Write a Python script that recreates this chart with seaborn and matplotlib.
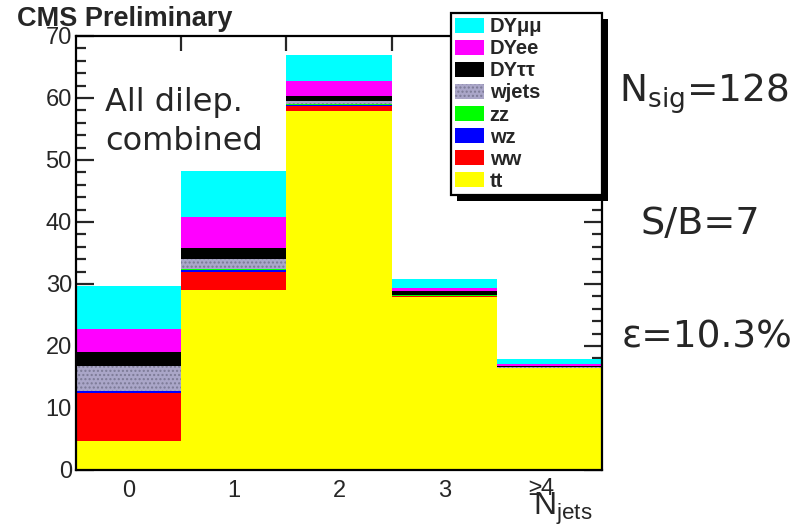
import numpy as np
import pandas as pd
import matplotlib
matplotlib.use("Agg")
import matplotlib.pyplot as plt
import seaborn as sns
from matplotlib.patches import Rectangle, Patch
from matplotlib.transforms import IdentityTransform, ScaledTranslation
from matplotlib.colors import to_rgba

# ---------------- data ----------------
njets = [0, 1, 2, 3, 4]
tick_labels = ["0", "1", "2", "3", "≥4"]
processes = ["DYμμ", "DYee", "DYττ", "wjets", "zz", "wz", "ww", "tt"]
dymm  = [7.0, 7.5, 4.2, 1.5, 0.9]
dyee  = [3.6, 4.9, 2.35, 0.4, 0.2]
dytt  = [2.4, 1.8, 0.85, 0.7, 0.3]
wjets = [3.9, 1.6, 0.45, 0.1, 0.05]
zz    = [0.0, 0.25, 0.25, 0.05, 0.0]
wz    = [0.3, 0.25, 0.05, 0.0, 0.0]
ww    = [7.9, 2.95, 0.85, 0.2, 0.1]
tt    = [4.6, 29.0, 57.9, 27.9, 16.4]
colors = ["#00ffff", "#ff00ff", "#000000", "#aaa6c8", "#00ff00", "#0000ff", "#ff0000", "#ffff00"]
wjets_hatch_color = "#7c7a96"

series = [dymm, dyee, dytt, wjets, zz, wz, ww, tt]
rows = []
for p, vals in zip(processes, series):
    for n, v in zip(njets, vals):
        rows.append({"njets": n, "process": p, "events": v})
df = pd.DataFrame(rows)

W, H = 803, 528
def fx(x):
    return x / W
def fy(y):
    return 1 - y / H

sns.set_style("ticks")
plt.rcParams["font.family"] = ["Liberation Sans", "DejaVu Sans"]
plt.rcParams["hatch.linewidth"] = 1.0

fig = plt.figure(figsize=(W / 100, H / 100), dpi=100)
ax = fig.add_axes([fx(76), fy(470), fx(602) - fx(76), fy(36) - fy(470)])

sns.histplot(data=df, x="njets", weights="events", hue="process",
             hue_order=processes, multiple="stack", discrete=True, shrink=1,
             palette=dict(zip(processes, colors)), linewidth=0, alpha=1,
             legend=False, ax=ax)

wj_rgba = to_rgba(colors[3])
for p in ax.patches:
    if np.allclose(p.get_facecolor(), wj_rgba):
        p.set_hatch("....")
        p.set_edgecolor(wjets_hatch_color)
        p.set_linewidth(0)

ax.set_xlim(-0.5, 4.5)
ax.set_ylim(0, 70)
ax.set_xlabel("")
ax.set_ylabel("")
ax.set_xticks(njets)
ax.set_xticklabels(tick_labels)
ax.set_xticks([0.5, 1.5, 2.5, 3.5], minor=True)
ax.tick_params(axis="x", which="major", length=0, pad=7, labelsize=17)
ax.tick_params(axis="x", which="minor", direction="in", length=11, width=1.6,
               top=True, bottom=True)
ax.set_yticks(range(0, 71, 10))
ax.set_yticks(range(0, 71, 2), minor=True)
ax.tick_params(axis="y", which="major", direction="in", length=13, width=1.6,
               left=True, right=True, pad=3, labelsize=17)
ax.tick_params(axis="y", which="minor", direction="in", length=7, width=1.6,
               left=True, right=True)
for s in ax.spines.values():
    s.set_visible(True)
    s.set_color("black")
    s.set_linewidth(1.6)

last = ax.get_xticklabels()[-1]
last.set_transform(last.get_transform() + ScaledTranslation(-8 / 100, 2 / 100, fig.dpi_scale_trans))

# legend
handles = []
for p, c in zip(processes, colors):
    if p == "wjets":
        handles.append(Patch(facecolor=c, hatch="....", edgecolor=wjets_hatch_color, linewidth=0))
    else:
        handles.append(Patch(facecolor=c, linewidth=0))
leg = fig.legend(handles, processes, loc="upper left",
                 bbox_to_anchor=(fx(451), 0.5, fx(602) - fx(451), fy(13) - 0.5),
                 mode="expand", borderaxespad=0, borderpad=0.22,
                 fancybox=False, framealpha=1, edgecolor="black",
                 prop={"family": ["Liberation Sans", "DejaVu Sans"], "weight": "bold", "size": 14.5},
                 labelspacing=0.15, handlelength=1.4, handleheight=0.8,
                 handletextpad=0.3)
leg.get_frame().set_linewidth(1.6)
leg.set_zorder(6)

# texts
fig.text(fx(17), fy(26), "CMS Preliminary", weight="bold", size=19.5, va="baseline")
fig.text(fx(105), fy(111), "All dilep.", family=["DejaVu Sans"], size=23, va="baseline")
fig.text(fx(105), fy(150), "combined", family=["DejaVu Sans"], size=23, va="baseline")
fig.text(fx(619), fy(102), r"N$_{\mathregular{sig}}$=128", family=["DejaVu Sans"], size=27, va="baseline")
fig.text(fx(641), fy(234), "S/B=7", family=["DejaVu Sans"], size=27.5, va="baseline")
fig.text(fx(622), fy(348), "ε=10.3%", family=["DejaVu Sans"], size=27, va="baseline")
fig.text(fx(592), fy(515), r"$\mathregular{N_{jets}}$", ha="right", va="baseline", size=23)

# legend drop shadow
fig.canvas.draw()
bb = leg.get_window_extent()
shadow = Rectangle((bb.x0 + 6, bb.y0 - 6), bb.width, bb.height, transform=IdentityTransform(),
                   facecolor="black", edgecolor="none", zorder=5.5)
fig.add_artist(shadow)
shadow.set_transform(IdentityTransform())

fig.savefig("out.png", dpi=100)
